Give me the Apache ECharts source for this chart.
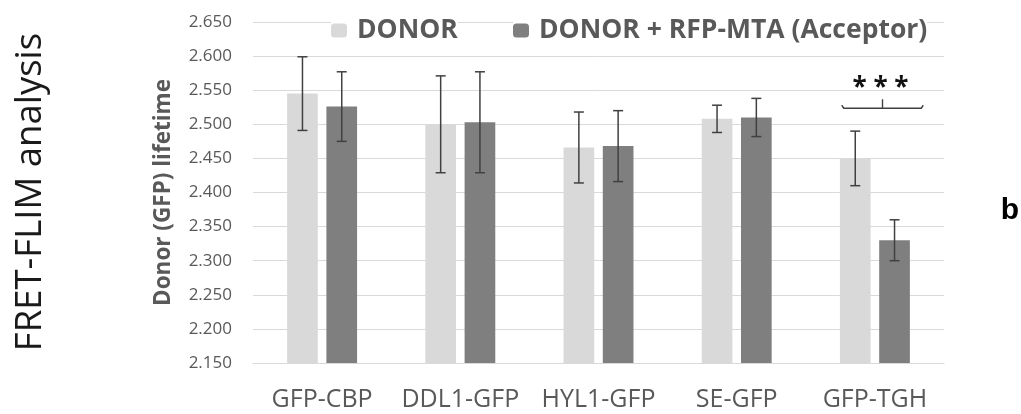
<!DOCTYPE html>
<html>
<head>
<meta charset="utf-8">
<script src="https://cdn.jsdelivr.net/npm/echarts@6/dist/echarts.min.js"></script>
<style>html,body{margin:0;padding:0;background:#fff;}#chart{width:1021px;height:414px;}</style>
</head>
<body>
<div id="chart"></div>
<script>
var categories = ['GFP-CBP', 'DDL1-GFP', 'HYL1-GFP', 'SE-GFP', 'GFP-TGH'];
var donor = [2.545, 2.500, 2.466, 2.508, 2.450];
var donorErr = [0.054, 0.071, 0.052, 0.020, 0.040];
var acceptor = [2.526, 2.503, 2.468, 2.510, 2.330];
var acceptorErr = [0.051, 0.074, 0.052, 0.028, 0.030];
var seriesNames = ['DONOR', 'DONOR + RFP-MTA (Acceptor)'];
var yTicks = {min: 2.15, max: 2.65, interval: 0.05};
var sigCategory = 4;
var sigLevel = 2.525;
var sigLabel = '* * *';

var BAR_W = 0.222, BAR_GAP = 0.28;
var FONT = '"Open Sans", sans-serif';

function errData(vals, errs) {
  return vals.map(function (v, i) { return [i, v - errs[i], v + errs[i]]; });
}
function errRender(side) {
  return function (params, api) {
    var band = api.size([1, 0])[0];
    var bw = band * BAR_W;
    var off = (bw + bw * BAR_GAP) / 2 * side;
    var lo = api.coord([api.value(0), api.value(1)]);
    var hi = api.coord([api.value(0), api.value(2)]);
    var x = lo[0] + off;
    var cap = 5;
    var st = {stroke: '#404040', lineWidth: 1.5};
    return {type: 'group', children: [
      {type: 'line', shape: {x1: x, y1: lo[1], x2: x, y2: hi[1]}, style: st},
      {type: 'line', shape: {x1: x - cap, y1: lo[1], x2: x + cap, y2: lo[1]}, style: st},
      {type: 'line', shape: {x1: x - cap, y1: hi[1], x2: x + cap, y2: hi[1]}, style: st}
    ]};
  };
}

var legendText = {fontSize: 26.5, fontWeight: 'bold', color: '#595959', fontFamily: FONT, padding: [0, 0, 0, 5]};
var chart = echarts.init(document.getElementById('chart'));
chart.setOption({
  animation: false,
  backgroundColor: '#fff',
  grid: {left: 253, right: 77, top: 22, bottom: 51},
  legend: [
    {data: [seriesNames[0]], left: 331, top: 15, itemWidth: 16, itemHeight: 14, itemGap: 0,
     padding: [2, 0, 2, 0], backgroundColor: '#fff', textStyle: legendText},
    {data: [seriesNames[1]], left: 513, top: 15, itemWidth: 16, itemHeight: 14, itemGap: 0,
     padding: [2, 0, 2, 0], backgroundColor: '#fff', textStyle: legendText}
  ],
  xAxis: {
    type: 'category', data: categories,
    axisLine: {show: true, lineStyle: {color: '#d9d9d9', width: 1}},
    axisTick: {show: false},
    axisLabel: {fontSize: 25, color: '#595959', fontFamily: FONT, margin: 24, interval: 0, hideOverlap: false}
  },
  yAxis: {
    type: 'value', min: yTicks.min, max: yTicks.max, interval: yTicks.interval,
    name: 'Donor (GFP) lifetime', nameLocation: 'middle', nameGap: 78,
    nameTextStyle: {fontSize: 22.5, fontWeight: 'bold', color: '#595959', fontFamily: FONT},
    axisLine: {show: false}, axisTick: {show: false},
    splitLine: {lineStyle: {color: '#d9d9d9', width: 1}},
    axisLabel: {fontSize: 17, color: '#595959', fontFamily: FONT, margin: 21,
      formatter: function (v) { return v.toFixed(3); }}
  },
  series: [
    {name: seriesNames[0], type: 'bar', data: donor, barWidth: (BAR_W * 100) + '%', barGap: (BAR_GAP * 100) + '%',
     itemStyle: {color: '#d9d9d9'}},
    {name: seriesNames[1], type: 'bar', data: acceptor, barWidth: (BAR_W * 100) + '%', barGap: (BAR_GAP * 100) + '%',
     itemStyle: {color: '#7f7f7f'}},
    {type: 'custom', data: errData(donor, donorErr), renderItem: errRender(-1), z: 5, silent: true},
    {type: 'custom', data: errData(acceptor, acceptorErr), renderItem: errRender(1), z: 5, silent: true},
    {type: 'custom', data: [[sigCategory, sigLevel]], z: 5, silent: true,
     renderItem: function (params, api) {
       var band = api.size([1, 0])[0];
       var p = api.coord([api.value(0), api.value(1)]);
       var xl = p[0] - band * 0.24, xr = p[0] + band * 0.35, xm = (xl + xr) / 2, y = p[1] + 1;
       var st = {stroke: '#404040', lineWidth: 1.4, fill: null};
       return {type: 'group', children: [
         {type: 'polyline', shape: {points: [[xl, y - 3], [xl + 2, y], [xr - 2, y], [xr, y - 3]]}, style: st},
         {type: 'line', shape: {x1: xm, y1: y, x2: xm, y2: y - 9}, style: st},
         {type: 'text', x: xm - 2, y: y - 20, style: {text: sigLabel, fontSize: 26, fontWeight: 'bold',
           fontFamily: FONT, fill: '#111', align: 'center', verticalAlign: 'middle'}}
       ]};
     }}
  ],
  graphic: [
    {type: 'text', x: 31, y: 192, rotation: Math.PI / 2, style: {text: 'FRET-FLIM analysis', fontSize: 36.5,
      fontFamily: FONT, fill: '#1a1a1a', align: 'center', verticalAlign: 'middle'}},
    {type: 'text', x: 1010, y: 211, style: {text: 'b', fontSize: 30, fontWeight: 'bold',
      fontFamily: '"Liberation Sans", Arial, sans-serif', fill: '#000', align: 'center', verticalAlign: 'middle'}}
  ]
});
</script>
</body>
</html>
